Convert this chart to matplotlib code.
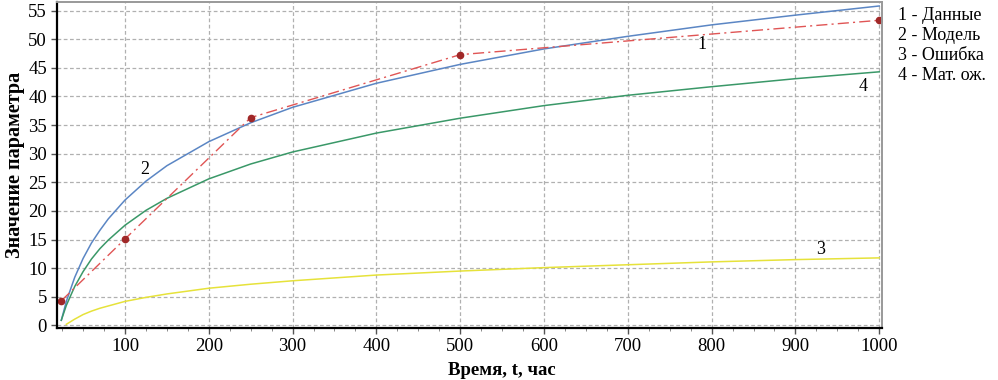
import numpy as np
import matplotlib
matplotlib.use('Agg')
import matplotlib.pyplot as plt
from matplotlib.ticker import MultipleLocator

plt.rcParams['font.family'] = ['Liberation Serif', 'DejaVu Serif']

# 1 - Данные
t_data = [24, 100, 250, 500, 1000]
y_data = [4.3, 15.1, 36.3, 47.3, 53.3]

# кривые
t_curve = [24, 30, 40, 50, 60, 70, 80, 100, 125, 150, 200, 250, 300, 400,
           500, 600, 700, 800, 900, 1000]
y_model = [0.9, 4.2, 8.4, 11.7, 14.4, 16.6, 18.6, 21.9, 25.2, 27.9, 32.1,
           35.4, 38.1, 42.3, 45.6, 48.3, 50.5, 52.5, 54.2, 55.8]
y_mean = [0.9, 3.5, 6.8, 9.4, 11.6, 13.4, 14.9, 17.5, 20.1, 22.2, 25.6,
          28.2, 30.3, 33.6, 36.2, 38.4, 40.2, 41.7, 43.1, 44.3]

t_err = [30, 40, 50, 60, 70, 80, 100, 125, 150, 200, 250, 300, 400,
         500, 600, 700, 800, 900, 1000]
y_err = [0.2, 1.1, 1.9, 2.5, 3.0, 3.4, 4.2, 4.9, 5.5, 6.5, 7.2, 7.8, 8.8,
         9.5, 10.1, 10.6, 11.1, 11.5, 11.8]

legend_lines = ['1 - Данные', '2 - Модель', '3 - Ошибка', '4 - Мат. ож.']

fig = plt.figure(figsize=(9.98, 3.8), dpi=100)
ax = fig.add_axes([0.0568, 0.1368, 0.8267, 0.858])

ax.plot(t_curve, y_model, color='#5b86c4', lw=1.1)
ax.plot(t_curve, y_mean, color='#3a9868', lw=1.1)
ax.plot(t_err, y_err, color='#e6e23a', lw=1.1)
ax.plot(t_data, y_data, color='#e05555', lw=1.0, ls=(0, (8, 3, 1.5, 3)),
        marker='o', ms=4.5, mfc='#a02828', mec='#a02828')

ax.text(788, 49, '1', fontsize=13, ha='center', va='center')
ax.text(124, 27.2, '2', fontsize=13, ha='center', va='center')
ax.text(930, 13.2, '3', fontsize=13, ha='center', va='center')
ax.text(981, 41.8, '4', fontsize=13, ha='center', va='center')

ax.set_xlim(18.5, 1003)
ax.set_ylim(-0.45, 56.5)
ax.xaxis.set_major_locator(MultipleLocator(100))
ax.xaxis.set_minor_locator(MultipleLocator(25))
ax.yaxis.set_major_locator(MultipleLocator(5))
ax.grid(True, which='major', color='#b0b0b0', ls=(0, (3, 2)), lw=0.9)
ax.tick_params(axis='both', which='major', labelsize=13.5, length=4,
               width=1, color='#555555', pad=3)
ax.tick_params(axis='x', which='minor', length=2.5, color='#777777')

for s in ['left', 'bottom']:
    ax.spines[s].set_linewidth(1.6)
    ax.spines[s].set_color('black')
for s in ['top', 'right']:
    ax.spines[s].set_linewidth(1.4)
    ax.spines[s].set_color('#999999')

ax.set_xlabel('Время, t, час', fontsize=13.5, fontweight='bold', va='center')
ax.xaxis.set_label_coords(0.539, -0.129)
ax.set_ylabel('Значение параметра', fontsize=14.5, fontweight='bold',
              va='center')
ax.yaxis.set_label_coords(-0.0505, 0.5)

for i, s in enumerate(legend_lines):
    fig.text(0.9, 1 - (15.5 + 20 * i) / 380, s, fontsize=13, va='center')

fig.savefig('out.png', dpi=100)
